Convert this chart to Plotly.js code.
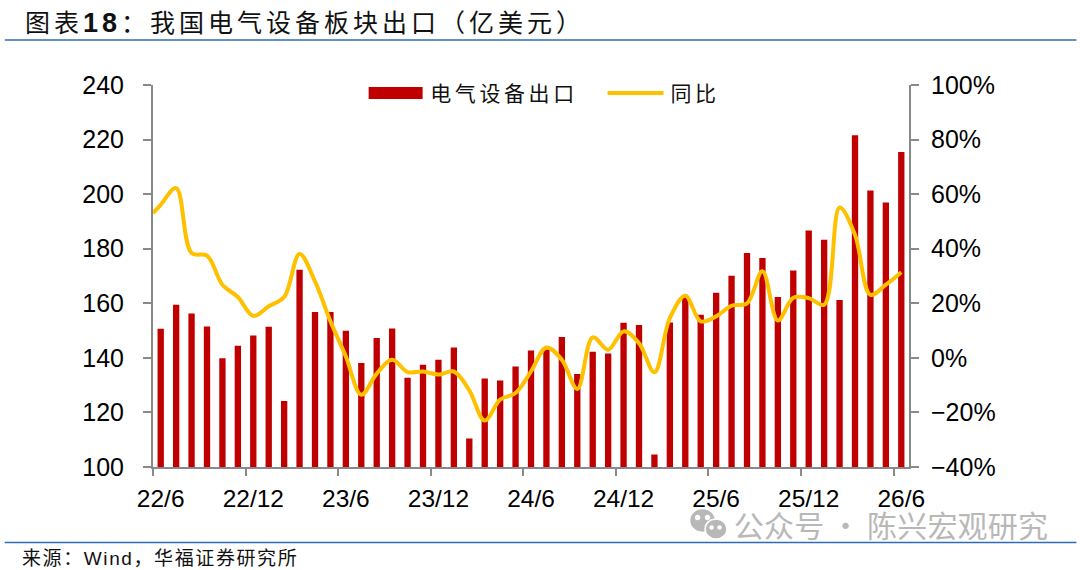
<!DOCTYPE html>
<html><head><meta charset="utf-8">
<script src="https://cdn.plot.ly/plotly-3.0.1.min.js"></script>
<style>
html,body{margin:0;padding:0;background:#fff}
.annotation[data-index="0"] text{letter-spacing:4px}
.annotation[data-index="1"] text{letter-spacing:1.6px}
.annotation[data-index="2"] text{letter-spacing:3.6px}
.annotation[data-index="3"] text{letter-spacing:3.6px}
.annotation[data-index="4"] text{letter-spacing:0.2px}
</style></head><body>
<div id="chart" style="width:1080px;height:570px"></div>
<script>
const months = ["22/6","22/7","22/8","22/9","22/10","22/11","22/12","23/1","23/2","23/3","23/4","23/5","23/6","23/7","23/8","23/9","23/10","23/11","23/12","24/1","24/2","24/3","24/4","24/5","24/6","24/7","24/8","24/9","24/10","24/11","24/12","25/1","25/2","25/3","25/4","25/5","25/6","25/7","25/8","25/9","25/10","25/11","25/12","26/1","26/2","26/3","26/4","26/5","26/6"];
const exportsValue = [150.7,159.5,156.3,151.5,139.9,144.4,148.2,151.4,124.2,172.3,156.8,156.8,149.9,138.1,147.3,150.8,132.7,137.5,139.3,143.8,110.4,132.4,131.7,136.8,142.7,143.2,147.6,134.1,142.2,141.6,152.9,152,104.6,153,162.4,155.8,163.9,170.1,178.4,176.6,162.3,172,186.7,183.3,161.2,221.6,201.3,196.9,215.4];
const yoy = [56.1,62.2,38.4,37.5,26.8,22.3,15.4,18.9,22.3,38.1,28,13.4,0.5,-13.5,-5.8,-0.7,-5.2,-5,-6.1,-5,-11.9,-23,-15.3,-12.9,-5,3.8,-0.7,-11.4,7.5,3,9.7,5.4,-5.3,14.6,22.8,13.4,15.2,19.1,20,31.7,13.7,22,21.9,19.5,55.1,45.1,23.1,26.8,31.4];
const yoyLeadIn = 53;
const labelEvery = 6;
const positions = months.map((_, i) => i);
const labelPos = positions.filter(i => i % labelEvery === 0);
const labelText = labelPos.map(i => months[i]);
const boundaryPos = labelPos.map(i => i - 0.5);
const PL=153.3, PR=909.5, PT=85, PB=467.5;
const px = x => (x-PL)/(PR-PL), py = y => (PB-y)/(PB-PT);
const CJK = '"Noto Sans CJK SC","Liberation Sans",sans-serif';
const LAT = '"Liberation Sans",Arial,sans-serif';
const GREY = '#898989', RED = '#C00000', GOLD = '#FFC000', BLUE='#2F6DB5', WM='#b8b8b8';
function note(text,x,y,size,color){return {text,xref:'paper',yref:'paper',x:px(x),y:py(y),xanchor:'center',yanchor:'middle',showarrow:false,font:{family:CJK,size,color:color||'#111'}};}
function rect(x0,y0,x1,y1,color){return {type:'rect',xref:'paper',yref:'paper',x0:px(x0),x1:px(x1),y0:py(y1),y1:py(y0),fillcolor:color,line:{width:0}};}
function oval(cx,cy,rx,ry,color){return {type:'circle',xref:'paper',yref:'paper',x0:px(cx-rx),x1:px(cx+rx),y0:py(cy+ry),y1:py(cy-ry),fillcolor:color,line:{width:1.5,color:'#fff'}};}
function hline(x0,x1,y,color,w){return {type:'line',xref:'paper',yref:'paper',x0:px(x0),x1:px(x1),y0:py(y),y1:py(y),line:{color,width:w}};}
const data = [
 {type:'bar',name:'电气设备出口',x:positions,y:exportsValue,marker:{color:RED},yaxis:'y',showlegend:false,hoverinfo:'x+y'},
 {type:'scatter',mode:'lines',name:'同比',x:[-0.5].concat(positions),y:[yoyLeadIn].concat(yoy),yaxis:'y2',line:{color:GOLD,width:4,shape:'spline',smoothing:1},showlegend:false}
];
const axisCommon = {showline:true,linecolor:GREY,linewidth:2,ticks:'outside',tickcolor:GREY,tickwidth:2,ticklen:8,showgrid:false,zeroline:false,tickfont:{family:LAT,size:25,color:'#000'}};
const layout = {
 width:1080,height:570,paper_bgcolor:'#fff',plot_bgcolor:'#fff',showlegend:false,bargap:0.59,
 margin:{l:PL,r:1080-PR,t:PT,b:570-PB,pad:0},
 xaxis:{range:[-0.5,48.5],tickmode:'array',tickvals:labelPos,ticktext:labelText,showline:true,linecolor:GREY,linewidth:2,showgrid:false,zeroline:false,ticks:'outside',ticklen:9,tickcolor:'rgba(0,0,0,0)',tickwidth:1,tickangle:0,tickfont:{family:LAT,size:24.5,color:'#000'},
   minor:{tickmode:'array',tickvals:boundaryPos,ticks:'outside',ticklen:7,tickwidth:2,tickcolor:GREY,showgrid:false}},
 yaxis:Object.assign({},axisCommon,{range:[100,240],dtick:20,tick0:100,ticklabelstandoff:14}),
 yaxis2:Object.assign({},axisCommon,{range:[-40,100],dtick:20,tick0:-40,ticksuffix:'%',overlaying:'y',side:'right',ticklabelstandoff:7}),
 annotations:[
  note('图表<b style="font-family:Liberation Sans;font-size:27px">18</b>：我国电气设备板块出口（亿美元）',305,21,25),
  note('来源：<span style="font-family:Liberation Sans">Wind</span>，华福证券研究所',160,557,19),
  note('电气设备出口',504,92,21),
  note('同比',695,92,21),
  note('公众号\u2009·\u2009陈兴宏观研究',891,525,30,WM)
 ],
 shapes:[
  hline(5,1077,40,BLUE,1.5),
  hline(5,1077,543,BLUE,1.5),
  rect(369,87,423,99,RED),
  {type:'line',xref:'paper',yref:'paper',x0:px(608),x1:px(664),y0:py(93),y1:py(93),line:{color:GOLD,width:4}},
  oval(703,521,13,12,WM),oval(716.5,529.5,11,10,WM),
  oval(698,518,2,2,'#fff'),oval(708,518,2,2,'#fff'),oval(712,528,1.5,1.5,'#fff'),oval(720,528,1.5,1.5,'#fff')
 ]
};
Plotly.newPlot('chart',data,layout,{displayModeBar:false,staticPlot:true});
</script></body></html>
